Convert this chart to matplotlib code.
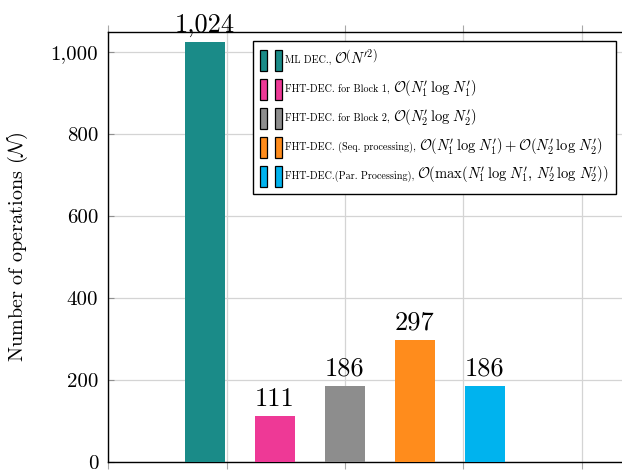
#!/usr/bin/env python3
# plot.py — number of operations: ML decoding vs FHT decoding variants (single bar group).
import matplotlib
matplotlib.use("Agg")
import matplotlib.pyplot as plt
from matplotlib.patches import Rectangle
from matplotlib.legend_handler import HandlerTuple
from matplotlib.offsetbox import TextArea
from matplotlib.ticker import FuncFormatter, MultipleLocator

# ---- data ----
method_names = [
    "ML DEC.,",
    "FHT-DEC. for Block 1,",
    "FHT-DEC. for Block 2,",
    "FHT-DEC. (Seq. processing),",
    "FHT-DEC.(Par. Processing),",
]
method_cost = [
    r"$\mathcal{O}\left(N^{\prime 2}\right)$",
    r"$\mathcal{O}\left(N_1^{\prime}\,\log\,N_1^{\prime}\right)$",
    r"$\mathcal{O}\left(N_2^{\prime}\,\log\,N_2^{\prime}\right)$",
    r"$\mathcal{O}\left(N_1^{\prime}\,\log\,N_1^{\prime}\right)"
    r"+\mathcal{O}\left(N_2^{\prime}\,\log\,N_2^{\prime}\right)$",
    r"$\mathcal{O}\left(\max\left(N_1^{\prime}\,\log\,N_1^{\prime},"
    r"\,N_2^{\prime}\,\log\,N_2^{\prime}\right)\right)$",
]
operations = [1024, 111, 186, 297, 186]
colors = ["#1a8b88", "#ee3996", "#8d8d8d", "#ff8c1c", "#00b3ee"]

plt.rcParams["font.family"] = "cmr10"
plt.rcParams["mathtext.fontset"] = "cm"
plt.rcParams["axes.formatter.use_mathtext"] = True

fig = plt.figure(figsize=(6.22, 4.70), dpi=100)
ax = fig.add_axes([108 / 622, 8 / 470, 4.5 * 118.5 / 622, 430 / 470])

group_x = 2.0
step = 70 / 118.5      # bar shift
width = 40 / 118.5     # bar width
n = len(operations)
xs = [group_x + (i - (n - 1) / 2) * step for i in range(n)]

bars = ax.bar(xs, operations, width, color=colors, zorder=3)
ax.bar_label(bars, labels=[f"{v:,}" for v in operations], padding=4, fontsize=19)

ax.set_xlim(0, 4.5)
ax.set_ylim(0, 1049)
ax.xaxis.set_major_locator(MultipleLocator(1))
ax.yaxis.set_major_locator(MultipleLocator(200))
ax.yaxis.set_major_formatter(FuncFormatter(lambda v, p: f"{int(v):,}"))
ax.tick_params(axis="x", which="both", direction="out", length=5, width=0.8,
               color="#a8a8a8", top=True, labelbottom=False)
ax.tick_params(axis="y", direction="in", length=4, width=0.8, color="#909090",
               labelsize=15, pad=7)
ax.grid(True, color="#d4d4d4", lw=0.9, zorder=0)
ax.set_axisbelow(True)
for s in ax.spines.values():
    s.set_linewidth(1.0)

ax.set_ylabel(r"Number of operations ($\mathcal{N}$)", fontsize=14.5, va="center")
ax.yaxis.set_label_coords((18 - 108) / (4.5 * 118.5), 0.5)

# legend: two small bar patches per entry, like pgfplots ybar legend
handles = [(Rectangle((0, 0), 1, 1, fc=c, ec="black", lw=0.9),
            Rectangle((0, 0), 1, 1, fc=c, ec="black", lw=0.9)) for c in colors]
leg = ax.legend(handles, method_names, handler_map={tuple: HandlerTuple(ndivide=None, pad=0.75)},
                loc="upper left", bbox_to_anchor=(253 / 622, 1 - 41 / 470),
                bbox_transform=fig.transFigure, fontsize=7.3, fancybox=False,
                edgecolor="black", framealpha=1, handlelength=2.2, handleheight=2.8,
                handletextpad=0.45, labelspacing=0.72, borderpad=0.7, borderaxespad=0)
leg.get_frame().set_linewidth(1.0)
# the complexity part is set larger than the name, so append it to each legend row
column = leg._legend_handle_box.get_children()[0]
for row, cost in zip(column.get_children(), method_cost):
    ta = TextArea(cost, textprops=dict(fontsize=10.5))
    ta.set_figure(fig)
    row._children.append(ta)
    row.sep = 2

fig.savefig("out.png", dpi=100)
